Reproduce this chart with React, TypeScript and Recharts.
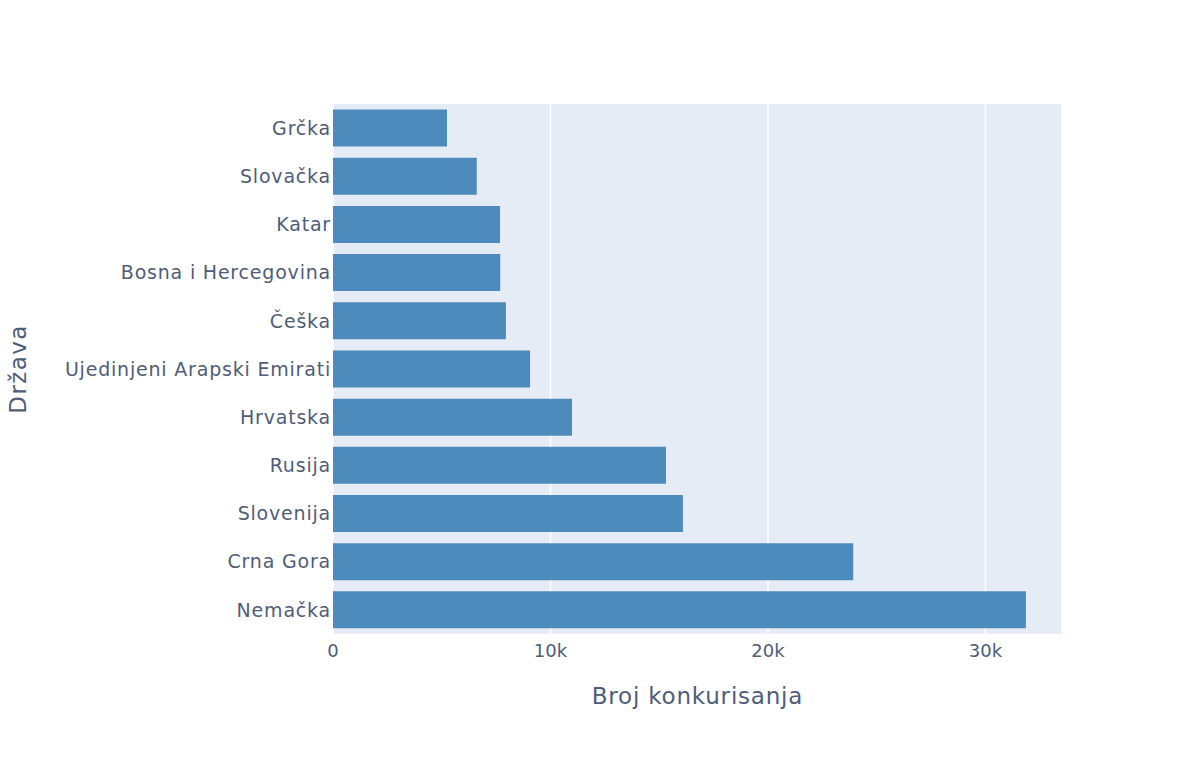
import React from 'react';
import { BarChart, Bar, XAxis, YAxis, CartesianGrid } from 'recharts';

// države, odozgo nadole
const countries = [
  'Grčka',
  'Slovačka',
  'Katar',
  'Bosna i Hercegovina',
  'Češka',
  'Ujedinjeni Arapski Emirati',
  'Hrvatska',
  'Rusija',
  'Slovenija',
  'Crna Gora',
  'Nemačka',
];

const applications = [5240, 6610, 7680, 7690, 7950, 9060, 10990, 15310, 16090, 23920, 31860];

const xTicks = [0, 10000, 20000, 30000];

const TEXT = '#4f5d78';
const FONT = '"DejaVu Sans", Verdana, sans-serif';

const data = countries.map((name, i) => ({ name, value: applications[i] }));

const fmtK = (v: number) => (v === 0 ? '0' : `${v / 1000}k`);

// naslov y ose, rotiran i centriran uz levu ivicu
const YTitle = ({ viewBox }: any) => {
  const x = viewBox.x - 45;
  const y = viewBox.y + viewBox.height / 2;
  return (
    <text
      x={x}
      y={y}
      transform={`rotate(-90 ${x} ${y})`}
      textAnchor="middle"
      dominantBaseline="central"
      fill={TEXT}
      fontSize={23}
      letterSpacing={1.4}
      fontFamily={FONT}
    >
      Država
    </text>
  );
};

export default function App() {
  return (
    <div style={{ position: 'absolute', left: 0, top: 0, width: 1200, height: 774, background: '#fff', fontFamily: FONT }}>
      <BarChart
        width={1200}
        height={774}
        data={data}
        layout="vertical"
        margin={{ top: 104, right: 138, bottom: 100, left: 63 }}
        barCategoryGap="11.5%"
      >
        <CartesianGrid horizontal={false} stroke="#ffffff" strokeWidth={1.5} fill="#e5ecf6" />
        <XAxis
          type="number"
          domain={[0, 33520]}
          ticks={xTicks}
          tickFormatter={fmtK}
          axisLine={false}
          tickLine={false}
          tickSize={0}
          tickMargin={10}
          height={40}
          tick={{ fill: TEXT, fontSize: 18, fontFamily: FONT }}
          label={{
            value: 'Broj konkurisanja',
            position: 'insideBottom',
            offset: -30,
            fill: TEXT,
            fontSize: 23,
            letterSpacing: 0.8,
            fontFamily: FONT,
          }}
        />
        <YAxis
          type="category"
          dataKey="name"
          width={270}
          axisLine={false}
          tickLine={false}
          tickSize={0}
          tickMargin={2}
          interval={0}
          tick={{ fill: TEXT, fontSize: 19, letterSpacing: 0.8, fontFamily: FONT }}
          label={{ content: YTitle }}
        />
        <Bar dataKey="value" fill="#4d8bbd" isAnimationActive={false} />
      </BarChart>
    </div>
  );
}
